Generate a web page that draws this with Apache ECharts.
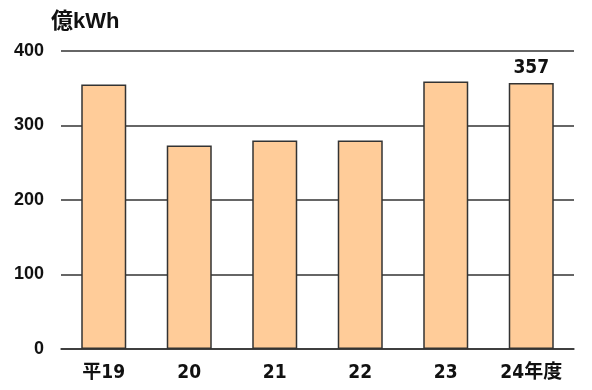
<!DOCTYPE html>
<html>
<head>
<meta charset="utf-8">
<script src="https://cdn.jsdelivr.net/npm/echarts@6/dist/echarts.min.js"></script>
<style>html,body{margin:0;padding:0;background:#fff}#c{width:592px;height:390px}</style>
</head>
<body>
<div id="c"></div>
<script>
const categories = ['平19', '20', '21', '22', '23', '24年度'];
const values = [355, 273, 280, 280, 359, 357];
const yTicks = [0, 100, 200, 300, 400];
const unitLabel = '億kWh';
const labelledIndex = 5;

const FONT = '"Liberation Sans", "Noto Sans CJK JP", sans-serif';
const NARROW = '"DejaVu Sans Condensed", "Liberation Sans Narrow", "Noto Sans CJK JP", sans-serif';
const chart = echarts.init(document.getElementById('c'), null, {renderer: 'canvas'});
chart.setOption({
  animation: false,
  backgroundColor: '#fff',
  title: {
    text: unitLabel, left: 46, top: 6,
    textStyle: {fontFamily: FONT, fontSize: 22, fontWeight: 'bold', color: '#111'}
  },
  grid: {left: 61, right: 18, top: 51, bottom: 41, containLabel: false},
  xAxis: {
    type: 'category', data: categories,
    axisLine: {show: true, lineStyle: {color: '#333', width: 1.5}},
    axisTick: {show: false},
    axisLabel: {fontFamily: NARROW, fontSize: 19, fontWeight: 'bold', color: '#111', margin: 15}
  },
  yAxis: {
    type: 'value', min: yTicks[0], max: yTicks[yTicks.length - 1], interval: 100,
    axisLine: {show: false}, axisTick: {show: false},
    splitLine: {lineStyle: {color: '#333', width: 1.5}},
    axisLabel: {fontFamily: FONT, fontSize: 18, fontWeight: 'bold', color: '#111', margin: 17}
  },
  series: [{
    type: 'bar', barWidth: 45,
    data: values.map((v, i) => ({
      value: v,
      label: {show: i === labelledIndex, position: 'top', distance: 5,
        fontFamily: NARROW, fontSize: 19, fontWeight: 'bold', color: '#111'}
    })),
    itemStyle: {color: '#FFCC99', borderColor: '#333', borderWidth: 1.5}
  }]
});
</script>
</body>
</html>
